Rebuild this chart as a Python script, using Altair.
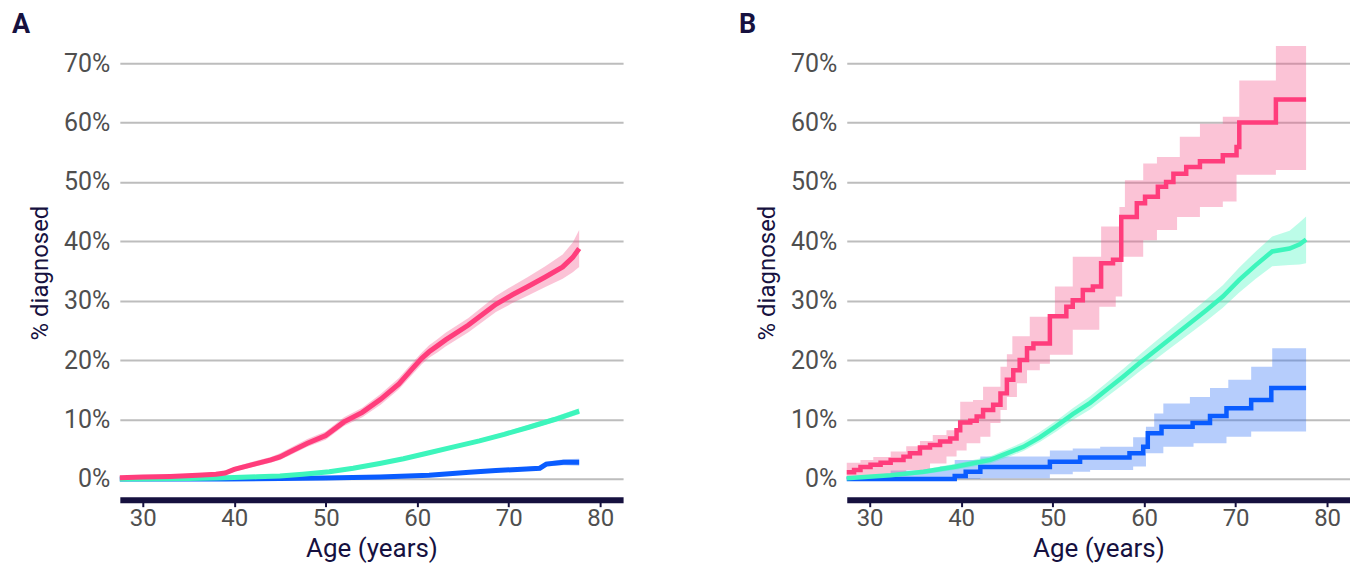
import altair as alt
import pandas as pd

# ---------------- Panel A ----------------
a_pink_age = [27.5, 30, 33, 36, 38, 39, 40, 42, 44, 45, 46, 48, 50, 52, 54, 56, 58, 59.5, 60.5, 61.3, 62.2, 63.1, 65.6, 68.6, 70.4, 72, 74, 75.9, 77, 77.7]
a_pink_pct = [0.2, 0.3, 0.4, 0.6, 0.8, 1.0, 1.6, 2.4, 3.2, 3.7, 4.5, 6.0, 7.3, 9.6, 11.2, 13.4, 16.0, 18.6, 20.3, 21.4, 22.4, 23.4, 25.9, 29.4, 31.0, 32.3, 34.0, 35.7, 37.3, 38.8]
a_pink_lo = [0.1, 0.15, 0.2, 0.35, 0.5, 0.7, 1.2, 2.0, 2.7, 3.2, 3.9, 5.4, 6.6, 8.9, 10.4, 12.5, 15.1, 17.6, 19.3, 20.4, 21.3, 22.3, 24.7, 28.1, 29.6, 30.8, 32.3, 33.7, 34.8, 35.7]
a_pink_hi = [0.4, 0.5, 0.6, 0.85, 1.1, 1.3, 2.0, 2.9, 3.7, 4.3, 5.1, 6.7, 8.0, 10.4, 12.0, 14.3, 17.0, 19.6, 21.3, 22.5, 23.5, 24.6, 27.1, 30.8, 32.5, 33.9, 35.8, 37.8, 39.8, 41.9]

a_aqua_age = [27.5, 35, 38, 40, 42.5, 45, 47.5, 50.4, 53, 55.9, 58.5, 61.3, 64, 66.8, 69.5, 72.2, 75, 77.7]
a_aqua_pct = [0.0, 0.05, 0.15, 0.25, 0.35, 0.5, 0.8, 1.2, 1.8, 2.6, 3.4, 4.4, 5.4, 6.4, 7.5, 8.7, 10.0, 11.4]
a_aqua_lo = [0.0, 0.0, 0.1, 0.2, 0.3, 0.4, 0.7, 1.1, 1.65, 2.45, 3.2, 4.2, 5.15, 6.1, 7.2, 8.3, 9.6, 10.9]
a_aqua_hi = [0.05, 0.1, 0.2, 0.3, 0.45, 0.6, 0.9, 1.35, 1.95, 2.8, 3.6, 4.65, 5.65, 6.7, 7.85, 9.1, 10.45, 11.9]

a_blue_age = [27.5, 39, 45, 50, 55.9, 61.3, 65.7, 68.6, 73.4, 74.1, 76.0, 77.7]
a_blue_pct = [0.0, 0.0, 0.05, 0.15, 0.3, 0.6, 1.1, 1.4, 1.8, 2.5, 2.8, 2.8]
a_blue_lo = [0.0, 0.0, 0.02, 0.1, 0.2, 0.45, 0.9, 1.15, 1.5, 2.1, 2.3, 2.2]
a_blue_hi = [0.02, 0.05, 0.1, 0.25, 0.45, 0.8, 1.35, 1.7, 2.15, 2.9, 3.3, 3.4]

# ---------------- Panel B ----------------
b_pink_age = [27.5, 28.3, 29.0, 30.1, 31.2, 32.3, 33.7, 34.4, 35.5, 36.6, 37.7, 38.8, 39.5, 39.9, 41.0, 41.7, 42.4, 43.5, 44.3, 45.0, 45.7, 46.4, 47.2, 47.9, 49.7, 51.5, 52.2, 53.3, 54.4, 55.3, 56.6, 57.5, 59.2, 60.1, 61.5, 62.4, 63.2, 64.6, 66.1, 68.6, 70.1, 70.4, 74.4, 77.7]
b_pink_pct = [1.1, 1.5, 2.0, 2.4, 2.7, 3.2, 3.75, 4.3, 5.3, 5.7, 6.3, 6.8, 8.2, 9.5, 9.8, 10.5, 11.6, 12.5, 14.4, 16.7, 18.3, 20.0, 22.0, 22.8, 27.4, 29.0, 30.1, 31.8, 32.4, 36.3, 36.9, 44.1, 46.4, 47.5, 49.2, 50.0, 51.4, 52.5, 53.5, 54.5, 55.9, 60.0, 63.9, 63.9]
b_pink_band_age = [27.5, 29.0, 30.4, 32.3, 34.0, 35.5, 36.6, 36.9, 38.4, 39.5, 39.9, 40.6, 41.3, 42.1, 42.4, 43.2, 44.3, 45.0, 45.6, 46.1, 47.2, 47.5, 48.6, 49.7, 50.25, 52.2, 55.1, 55.3, 56.9, 57.3, 57.6, 57.9, 59.9, 61.4, 63.6, 63.9, 66.1, 68.6, 70.1, 70.4, 74.4, 77.7]
b_pink_lo = [0.0, 0.0, 0.3, 0.7, 1.5, 1.5, 2.6, 2.6, 3.75, 4.8, 4.8, 6.0, 6.0, 7.1, 7.1, 9.4, 11.6, 13.8, 13.8, 16.1, 18.3, 18.3, 19.4, 20.9, 20.9, 25.1, 29.0, 29.0, 30.7, 30.7, 37.4, 37.4, 40.2, 41.9, 44.1, 44.1, 45.8, 46.7, 51.2, 51.2, 52.0, 52.0]
b_pink_hi = [2.7, 3.2, 3.7, 4.6, 5.5, 6.4, 6.4, 7.4, 8.2, 8.2, 13.0, 13.0, 13.3, 13.3, 15.5, 15.5, 18.9, 21.0, 24.0, 24.0, 24.0, 27.3, 27.3, 27.3, 32.4, 37.4, 37.4, 42.5, 42.5, 45.8, 45.8, 50.3, 53.1, 54.2, 54.2, 57.6, 59.8, 61.0, 61.0, 67.1, 72.9, 72.9]

b_aqua_age = [27.5, 32.3, 35.9, 39.5, 43.2, 45.0, 46.8, 48.6, 50.4, 52.2, 54.1, 55.9, 57.7, 59.5, 61.3, 63.1, 65.0, 66.8, 68.6, 70.4, 72.2, 74.0, 75.9, 77.0, 77.7]
b_aqua_pct = [0.1, 0.6, 1.2, 2.1, 3.2, 4.3, 5.4, 7.0, 8.9, 10.9, 12.8, 15.0, 17.2, 19.5, 21.7, 23.9, 26.2, 28.4, 30.7, 33.5, 36.0, 38.3, 38.8, 39.5, 40.3]
b_aqua_lo = [0.0, 0.3, 0.8, 1.6, 2.6, 3.6, 4.7, 6.2, 8.0, 9.9, 11.7, 13.8, 15.9, 18.1, 20.2, 22.3, 24.5, 26.6, 28.8, 31.4, 33.7, 35.8, 36.0, 36.1, 36.3]
b_aqua_hi = [0.4, 0.9, 1.6, 2.6, 3.8, 5.0, 6.2, 7.9, 9.8, 11.9, 13.9, 16.2, 18.5, 20.9, 23.2, 25.5, 27.9, 30.2, 32.6, 35.6, 38.3, 40.8, 41.8, 43.2, 44.2]

b_blue_age = [27.5, 39.3, 40.5, 42.1, 49.7, 53.0, 58.4, 59.9, 60.4, 61.9, 65.3, 67.2, 69.0, 71.7, 73.9, 77.7]
b_blue_pct = [0.0, 0.5, 1.2, 2.0, 2.9, 3.6, 4.3, 5.4, 7.7, 8.8, 9.4, 10.6, 11.9, 13.3, 15.3, 15.3]
b_blue_band_age = [27.5, 32.3, 37.7, 39.3, 42.1, 49.7, 52.2, 54.1, 55.2, 58.8, 60.2, 61.1, 62.1, 65.0, 65.4, 67.2, 69.0, 69.2, 71.7, 74.0, 77.7]
b_blue_lo = [0.0, 0.0, 0.0, 0.0, 0.1, 0.8, 1.2, 1.5, 1.5, 2.1, 4.3, 4.3, 5.4, 5.4, 6.0, 6.0, 7.1, 7.1, 8.0, 8.0, 8.0]
b_blue_hi = [0.3, 1.4, 2.1, 3.2, 3.75, 4.8, 5.1, 5.1, 5.4, 7.0, 8.8, 11.0, 12.7, 13.8, 13.8, 15.3, 15.3, 16.7, 18.9, 22.0, 22.0]

x_ticks = [30, 40, 50, 60, 70, 80]
y_ticks = [0, 10, 20, 30, 40, 50, 60, 70]
panel_labels = ["A", "B"]

FONT = "Roboto"
NAVY = "#16113f"
LABEL_GRAY = "#4f4f4f"
PINK, PINK_BAND = "#ff3d7c", "#f4538a"
AQUA, AQUA_BAND = "#3df5bc", "#3ef5bd"
BLUE, BLUE_BAND = "#0a5cff", "#2e6ff5"

xscale = alt.Scale(domain=[27.5, 82.5], nice=False, zero=False)
yscale = alt.Scale(domain=[-3.5, 73], nice=False, zero=False)

xaxis = alt.Axis(values=x_ticks, grid=False, domainColor=NAVY, domainWidth=6,
                 tickColor=NAVY, tickWidth=2, tickSize=7, labelFont=FONT,
                 labelFontSize=24, labelColor=LABEL_GRAY, labelPadding=0,
                 labelFlush=False, titleFont=FONT, titleFontSize=26,
                 titleColor=NAVY, titleFontWeight="normal", titlePadding=5)
yaxis = alt.Axis(values=y_ticks, labelExpr="datum.value + '%'", domain=False,
                 ticks=False, grid=True, gridColor="#bdbdbd", gridWidth=2,
                 labelFont=FONT, labelFontSize=25, labelColor=LABEL_GRAY,
                 labelPadding=10, titleFont=FONT, titleFontSize=24,
                 titleColor=NAVY, titleFontWeight="normal", titlePadding=11)


def X():
    return alt.X("age:Q", scale=xscale, axis=xaxis, title="Age (years)")


def Y(field):
    return alt.Y(f"{field}:Q", scale=yscale, axis=yaxis, title="% diagnosed")


def band(ages, lo, hi, color, interp):
    df = pd.DataFrame({"age": ages, "lo": lo, "hi": hi})
    return alt.Chart(df).mark_area(color=color, opacity=0.35, interpolate=interp).encode(
        x=X(), y=Y("lo"), y2="hi:Q")


def line(ages, pct, color, interp, width):
    df = pd.DataFrame({"age": ages, "pct": pct})
    return alt.Chart(df).mark_line(color=color, strokeWidth=width, interpolate=interp,
                                   strokeCap="butt", strokeJoin="miter").encode(
        x=X(), y=Y("pct"))


def label(txt):
    df = pd.DataFrame({"lab": [txt]})
    return alt.Chart(df).mark_text(align="left", baseline="alphabetic", fontSize=27,
                                   fontWeight="bold", font=FONT, color=NAVY).encode(
        x=alt.value(-108), y=alt.value(-12), text="lab:N")


panel_a = alt.layer(
    band(a_blue_age, a_blue_lo, a_blue_hi, BLUE_BAND, "linear"),
    band(a_aqua_age, a_aqua_lo, a_aqua_hi, AQUA_BAND, "linear"),
    band(a_pink_age, a_pink_lo, a_pink_hi, PINK_BAND, "linear"),
    line(a_blue_age, a_blue_pct, BLUE, "linear", 5),
    line(a_aqua_age, a_aqua_pct, AQUA, "linear", 5),
    line(a_pink_age, a_pink_pct, PINK, "linear", 5),
    label(panel_labels[0]),
).properties(width=504, height=455)

panel_b = alt.layer(
    band(b_blue_band_age, b_blue_lo, b_blue_hi, BLUE_BAND, "step-after"),
    band(b_aqua_age, b_aqua_lo, b_aqua_hi, AQUA_BAND, "linear"),
    band(b_pink_band_age, b_pink_lo, b_pink_hi, PINK_BAND, "step-after"),
    line(b_blue_age, b_blue_pct, BLUE, "step-after", 4.5),
    line(b_aqua_age, b_aqua_pct, AQUA, "linear", 4.5),
    line(b_pink_age, b_pink_pct, PINK, "step-after", 4.5),
    label(panel_labels[1]),
).properties(width=504, height=455)

chart = alt.hconcat(panel_a, panel_b, spacing=116).properties(
    padding={"left": 4, "top": 3, "right": 0, "bottom": 2},
    background="white",
).configure_view(stroke=None)

chart.save("out.html", embed_options={"renderer": "svg", "actions": False})
